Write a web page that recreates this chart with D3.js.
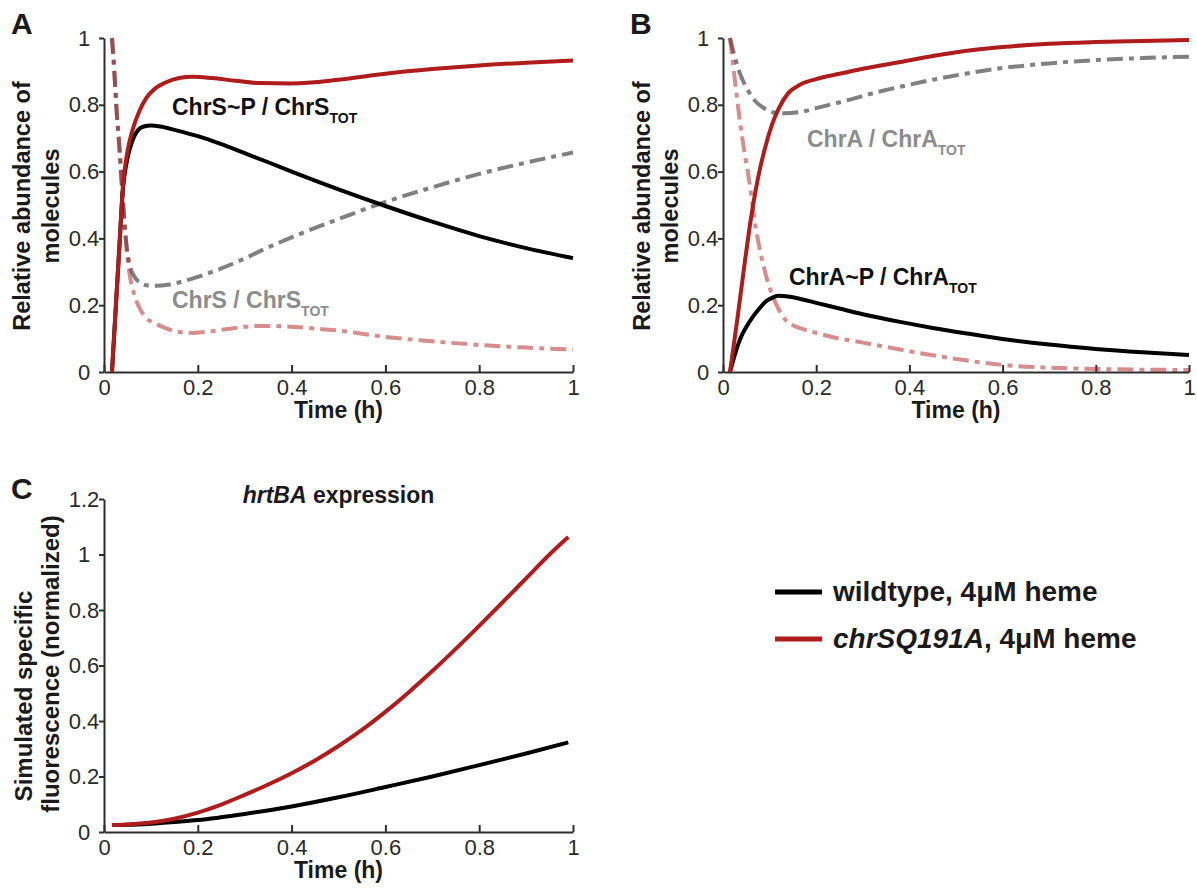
<!DOCTYPE html>
<html><head><meta charset="utf-8">
<script src="https://cdn.jsdelivr.net/npm/d3@7"></script>
<style>
body{margin:0;background:#fff}
text{font-family:"Liberation Sans",Arial,Helvetica,sans-serif}
</style>
</head><body>
<svg id="chart" width="1197" height="888"></svg>
<script>
// ---------- data ----------
const xTicks = [0, 0.2, 0.4, 0.6, 0.8, 1];
const yTicksAB = [0, 0.2, 0.4, 0.6, 0.8, 1];
const yTicksC = [0, 0.2, 0.4, 0.6, 0.8, 1, 1.2];

// Panel A (ChrS)
const tA_mutP = [0.017,0.025,0.033,0.04,0.05,0.062,0.075,0.09,0.11,0.13,0.16,0.19,0.23,0.28,0.33,0.4,0.5,0.6,0.7,0.8,0.9,1.0];
const vA_mutP = [0,0.19,0.38,0.55,0.66,0.73,0.78,0.82,0.85,0.866,0.88,0.884,0.88,0.872,0.865,0.864,0.875,0.893,0.907,0.918,0.926,0.933];
const tA_wtP = [0.017,0.025,0.033,0.04,0.05,0.06,0.073,0.085,0.1,0.12,0.15,0.2,0.25,0.3,0.35,0.4,0.45,0.5,0.6,0.7,0.8,0.9,1.0];
const vA_wtP = [0,0.19,0.38,0.54,0.64,0.69,0.725,0.735,0.738,0.735,0.725,0.706,0.682,0.655,0.628,0.6,0.573,0.547,0.497,0.45,0.407,0.371,0.341];
const tA_wtFree = [0.017,0.022,0.027,0.033,0.038,0.043,0.048,0.055,0.065,0.077,0.09,0.11,0.14,0.17,0.2,0.25,0.3,0.35,0.4,0.5,0.6,0.7,0.8,0.9,1.0];
const vA_wtFree = [1.0,0.9,0.78,0.67,0.56,0.46,0.38,0.32,0.285,0.268,0.26,0.258,0.262,0.272,0.285,0.31,0.34,0.373,0.403,0.458,0.509,0.553,0.593,0.627,0.657];
const tA_mutFree = [0.017,0.022,0.027,0.033,0.038,0.043,0.048,0.055,0.065,0.077,0.09,0.11,0.13,0.16,0.19,0.23,0.28,0.33,0.38,0.45,0.5,0.6,0.7,0.8,0.9,1.0];
const vA_mutFree = [1.0,0.9,0.78,0.67,0.56,0.46,0.37,0.29,0.23,0.188,0.162,0.145,0.132,0.12,0.117,0.122,0.132,0.138,0.137,0.13,0.124,0.105,0.092,0.081,0.073,0.067];

// Panel B (ChrA)
const tB_mutP = [0.015,0.03,0.045,0.06,0.075,0.09,0.105,0.12,0.14,0.165,0.2,0.25,0.3,0.38,0.45,0.52,0.6,0.7,0.8,0.9,1.0];
const vB_mutP = [0,0.15,0.31,0.46,0.58,0.67,0.74,0.79,0.835,0.86,0.877,0.893,0.908,0.928,0.946,0.961,0.973,0.983,0.988,0.991,0.994];
const tB_wtP = [0.015,0.025,0.036,0.05,0.064,0.078,0.091,0.105,0.119,0.135,0.16,0.2,0.25,0.3,0.38,0.45,0.52,0.6,0.7,0.8,0.9,1.0];
const vB_wtP = [0,0.05,0.096,0.135,0.165,0.19,0.21,0.222,0.228,0.227,0.221,0.207,0.19,0.173,0.15,0.132,0.116,0.099,0.082,0.069,0.059,0.051];
const tB_wtFree = [0.015,0.025,0.036,0.047,0.057,0.07,0.085,0.1,0.113,0.13,0.164,0.2,0.268,0.32,0.377,0.45,0.52,0.6,0.7,0.8,0.9,1.0];
const vB_wtFree = [1.0,0.945,0.895,0.86,0.835,0.81,0.793,0.781,0.776,0.775,0.778,0.79,0.814,0.834,0.853,0.875,0.893,0.91,0.924,0.934,0.94,0.944];
const tB_mutFree = [0.015,0.025,0.036,0.047,0.057,0.07,0.08,0.091,0.102,0.113,0.124,0.134,0.15,0.164,0.2,0.234,0.3,0.377,0.45,0.52,0.6,0.7,0.8,0.9,1.0];
const vB_mutFree = [1.0,0.88,0.754,0.65,0.566,0.434,0.36,0.296,0.245,0.207,0.176,0.156,0.14,0.132,0.117,0.105,0.088,0.068,0.05,0.035,0.021,0.013,0.009,0.007,0.006];

// Panel C (hrtBA expression)
const tC_wt = [0.017,0.05,0.1,0.15,0.2,0.3,0.4,0.5,0.6,0.7,0.8,0.9,0.99];
const vC_wt = [0.025,0.026,0.03,0.036,0.043,0.065,0.092,0.125,0.162,0.2,0.241,0.283,0.323];
const tC_mut = [0.017,0.05,0.1,0.15,0.2,0.25,0.3,0.35,0.4,0.45,0.5,0.55,0.6,0.65,0.7,0.75,0.8,0.85,0.9,0.95,0.99];
const vC_mut = [0.025,0.027,0.034,0.048,0.07,0.099,0.134,0.171,0.212,0.258,0.31,0.368,0.433,0.504,0.58,0.66,0.743,0.828,0.914,1.0,1.063];

const legendLabels = ["wildtype, 4μM heme", "chrSQ191A", ", 4μM heme"];

// ---------- styles ----------
const RED = "#ae1c1c", GRAY = "#808080", AXIS = "#2e2e2e";
const DASH = "16,6,5,6";
const styles = {
  wtP:     {stroke: "#000", opacity: 1, dash: null},
  mutP:    {stroke: RED, opacity: 1, dash: null},
  wtFree:  {stroke: GRAY, opacity: 1, dash: DASH},
  mutFree: {stroke: RED, opacity: 0.5, dash: DASH}
};

const svg = d3.select("#chart");
const fmt = d3.format("~g");

function panel(x0, x1, yBot, yTop, yMax, yTicks) {
  const x = d3.scaleLinear().domain([0, 1]).range([x0, x1]);
  const y = d3.scaleLinear().domain([0, yMax]).range([yBot, yTop]);
  const g = svg.append("g");
  const ax = g.append("g").attr("transform", `translate(0,${yBot})`)
    .call(d3.axisBottom(x).tickValues(xTicks).tickFormat(fmt).tickSizeInner(-7).tickSizeOuter(0).tickPadding(7));
  const ay = g.append("g").attr("transform", `translate(${x0},0)`)
    .call(d3.axisLeft(y).tickValues(yTicks).tickFormat(fmt).tickSizeInner(5).tickSizeOuter(0));
  [ax, ay].forEach(a => {
    a.select(".domain").attr("stroke", AXIS).attr("stroke-width", 2);
    a.selectAll(".tick line").attr("stroke", AXIS).attr("stroke-width", 2);
    a.selectAll(".tick text").attr("fill", "#2a2a2a").style("font-size", "22px");
  });
  ay.selectAll(".tick text").attr("text-anchor", "middle").attr("x", -20);
  return {g, x, y};
}

function series(p, ts, vs, kind) {
  const st = styles[kind];
  const data = ts.map((t, i) => [t, vs[i]]);
  const line = d3.line().x(d => p.x(d[0])).y(d => p.y(d[1])).curve(d3.curveMonotoneX);
  const path = p.g.append("path").datum(data).attr("d", line)
    .attr("fill", "none").attr("stroke", st.stroke).attr("stroke-opacity", st.opacity)
    .attr("stroke-width", 4).attr("stroke-linejoin", "round");
  if (st.dash) path.attr("stroke-dasharray", st.dash);
}

function yTitle(lines, axisX, cy, size) {
  lines.forEach(l => {
    svg.append("text").attr("transform", `translate(${axisX + l.dx},${l.cy ?? cy}) rotate(-90)`)
      .attr("text-anchor", "middle").attr("font-weight", "bold").style("font-size", (size || 23) + "px")
      .attr("fill", "#1a1a1a").text(l.text);
  });
}

function xTitle(cx, baseline) {
  svg.append("text").attr("x", cx).attr("y", baseline).attr("text-anchor", "middle")
    .attr("font-weight", "bold").style("font-size", "23px").attr("fill", "#1a1a1a").text("Time (h)");
}

function annot(x, y, main, color) {
  const t = svg.append("text").attr("x", x).attr("y", y).attr("font-weight", "bold")
    .style("font-size", "23px").attr("fill", color);
  t.append("tspan").text(main);
  t.append("tspan").attr("dy", 8).style("font-size", "14px").text("TOT");
}

function letter(x, y, s) {
  svg.append("text").attr("x", x).attr("y", y).attr("font-weight", "bold")
    .style("font-size", "30px").attr("fill", "#1a1a1a").text(s);
}

// ---------- Panel A ----------
const pA = panel(104, 573, 372, 38, 1, yTicksAB);
series(pA, tA_wtFree, vA_wtFree, "wtFree");
series(pA, tA_mutFree, vA_mutFree, "mutFree");
series(pA, tA_wtP, vA_wtP, "wtP");
series(pA, tA_mutP, vA_mutP, "mutP");
annot(172, 115, "ChrS~P / ChrS", "#111");
annot(172, 308, "ChrS / ChrS", "#8c8c8c");
yTitle([{text: "Relative abundance of", dx: -74}, {text: "molecules", dx: -45}], 104, 206, 23.5);
xTitle(338.5, 418);
letter(11, 34, "A");

// ---------- Panel B ----------
const pB = panel(723, 1189, 372, 38, 1, yTicksAB);
series(pB, tB_wtFree, vB_wtFree, "wtFree");
series(pB, tB_mutFree, vB_mutFree, "mutFree");
series(pB, tB_wtP, vB_wtP, "wtP");
series(pB, tB_mutP, vB_mutP, "mutP");
annot(807, 147, "ChrA / ChrA", "#8c8c8c");
annot(789, 285, "ChrA~P / ChrA", "#111");
yTitle([{text: "Relative abundance of", dx: -73}, {text: "molecules", dx: -45}], 723, 206, 23.5);
xTitle(956, 418);
letter(630, 34, "B");

// ---------- Panel C ----------
const pC = panel(104, 573, 832, 499, 1.2, yTicksC);
series(pC, tC_wt, vC_wt, "wtP");
series(pC, tC_mut, vC_mut, "mutP");
yTitle([{text: "Simulated specific", dx: -72, cy: 696}, {text: "fluorescence (normalized)", dx: -45, cy: 664}], 104, 664, 24);
xTitle(338.5, 878);
letter(11, 499, "C");
const tt = svg.append("text").attr("x", 338.5).attr("y", 503).attr("text-anchor", "middle")
  .attr("font-weight", "bold").style("font-size", "23px").attr("fill", "#1a1a1a");
tt.append("tspan").attr("font-style", "italic").text("hrtBA");
tt.append("tspan").text(" expression");

// ---------- Legend ----------
const lg = svg.append("g");
lg.append("line").attr("x1", 775).attr("x2", 822).attr("y1", 592).attr("y2", 592)
  .attr("stroke", "#000").attr("stroke-width", 5);
lg.append("line").attr("x1", 775).attr("x2", 822).attr("y1", 639).attr("y2", 639)
  .attr("stroke", RED).attr("stroke-width", 5);
lg.append("text").attr("x", 833).attr("y", 601).attr("font-weight", "bold")
  .style("font-size", "28px").attr("fill", "#1a1a1a").text(legendLabels[0]);
const l2 = lg.append("text").attr("x", 833).attr("y", 648).attr("font-weight", "bold")
  .style("font-size", "28px").attr("fill", "#1a1a1a");
l2.append("tspan").attr("font-style", "italic").text(legendLabels[1]);
l2.append("tspan").text(legendLabels[2]);
</script>
</body></html>
